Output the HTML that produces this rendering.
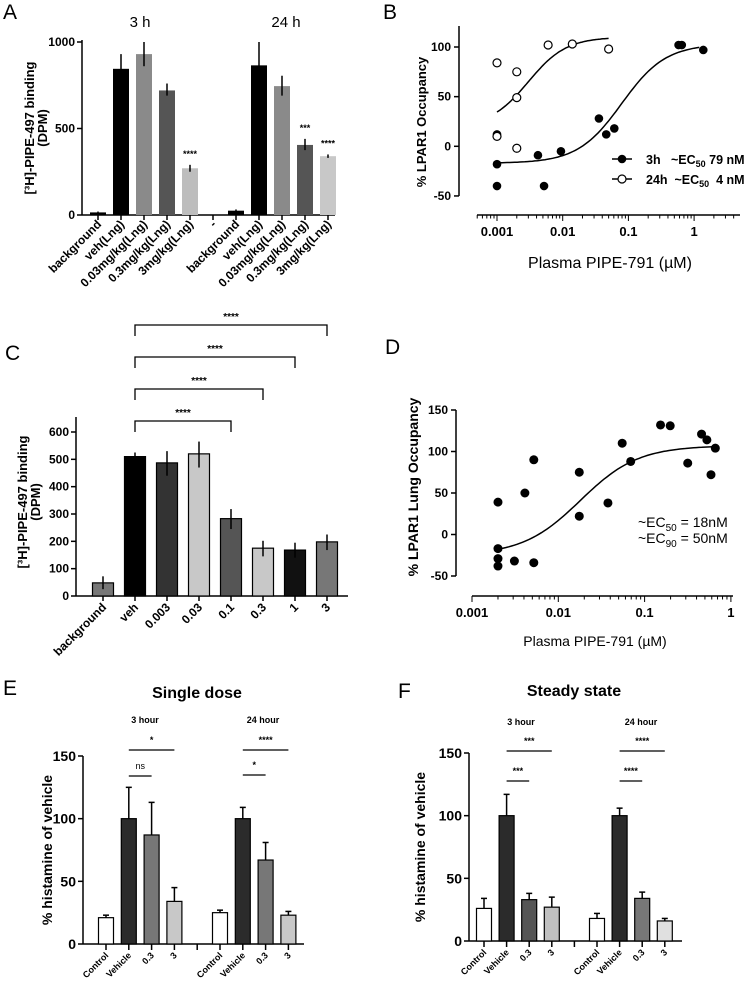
<!DOCTYPE html>
<html><head><meta charset="utf-8"><style>
body{margin:0;background:#fff}
svg{display:block;font-family:"Liberation Sans",Arial,sans-serif}
.b{font-weight:bold}
</style></head><body>
<svg id="fig" width="744" height="987" viewBox="0 0 744 987" xmlns="http://www.w3.org/2000/svg">
<g id="static">
<text x="3" y="19" font-size="21">A</text>
<text x="140" y="27" font-size="15" text-anchor="middle">3 h</text>
<text x="286" y="27" font-size="15" text-anchor="middle">24 h</text>
<text transform="translate(34,128) rotate(-90)" font-size="13" class="b" text-anchor="middle">[³H]-PIPE-497 binding</text>
<text transform="translate(47,128) rotate(-90)" font-size="13" class="b" text-anchor="middle">(DPM)</text>
<text x="383" y="19" font-size="21">B</text>
<text transform="translate(426,122) rotate(-90)" font-size="13" class="b" text-anchor="middle">% LPAR1 Occupancy</text>
<text x="610" y="268" font-size="16" text-anchor="middle">Plasma PIPE-791 (µM)</text>
<text x="5" y="360" font-size="21">C</text>
<text transform="translate(27,502) rotate(-90)" font-size="13" class="b" text-anchor="middle">[³H]-PIPE-497 binding</text>
<text transform="translate(40,502) rotate(-90)" font-size="13" class="b" text-anchor="middle">(DPM)</text>
<text x="385" y="354" font-size="21">D</text>
<text transform="translate(418,487) rotate(-90)" font-size="14" class="b" text-anchor="middle">% LPAR1 Lung Occupancy</text>
<text x="595" y="646" font-size="14" text-anchor="middle">Plasma PIPE-791 (µM)</text>
<text x="638" y="527" font-size="14">~EC<tspan font-size="10" dy="4">50</tspan><tspan dy="-4"> = 18nM</tspan></text>
<text x="638" y="543" font-size="14" dy="0">~EC<tspan font-size="10" dy="4">90</tspan><tspan dy="-4"> = 50nM</tspan></text>
<text x="3" y="695" font-size="21">E</text>
<text x="197" y="698" font-size="16" class="b" text-anchor="middle">Single dose</text>
<text x="145" y="723" font-size="9" class="b" text-anchor="middle">3 hour</text>
<text x="263" y="723" font-size="9" class="b" text-anchor="middle">24 hour</text>
<text transform="translate(52,850) rotate(-90)" font-size="14" class="b" text-anchor="middle">% histamine of vehicle</text>
<text x="398" y="698" font-size="21">F</text>
<text x="574" y="696" font-size="16" class="b" text-anchor="middle">Steady state</text>
<text x="521" y="725" font-size="9" class="b" text-anchor="middle">3 hour</text>
<text x="641" y="725" font-size="9" class="b" text-anchor="middle">24 hour</text>
<text transform="translate(425,847) rotate(-90)" font-size="14" class="b" text-anchor="middle">% histamine of vehicle</text>
</g>
</svg>
<script>
// ---- Panel A data ----
const aCategories = ["background","veh(Lng)","0.03mg/kg(Lng)","0.3mg/kg(Lng)","3mg/kg(Lng)","-","background","veh(Lng)","0.03mg/kg(Lng)","0.3mg/kg(Lng)","3mg/kg(Lng)"];
const aValues = [15,845,930,720,270,null,25,865,745,405,340];
const aErrHi = [20,930,1000,760,290,null,32,1000,805,440,350];
const aErrLo = [10,760,860,690,250,null,18,760,690,375,330];
const aStars = ["","","","","****","","","","","***","****"];
const aTicks = [0,500,1000];
// ---- Panel B data ----
const b3hX = [0.001,0.001,0.001,0.0042,0.0052,0.0094,0.0356,0.046,0.061,0.58,0.65,1.38];
const b3hY = [12,-18,-40,-9,-40,-5,28,12,18,102,102,97];
const b24hX = [0.001,0.001,0.002,0.002,0.002,0.006,0.014,0.05];
const b24hY = [84,10,75,49,-2,102,103,98];
const b3hFit = [-17,103,0.079,1.3];
const b24hFit = [20,110,0.003,1.5];
const bYTicks = [-50,0,50,100];
const bXTicks = [0.001,0.01,0.1,1];
const bXTickLabels = ["0.001","0.01","0.1","1"];
// ---- Panel C data ----
const cCategories = ["background","veh","0.003","0.03","0.1","0.3","1","3"];
const cValues = [48,510,487,520,283,175,168,198];
const cErrHi = [72,525,530,565,318,202,195,225];
const cErrLo = [25,495,440,470,245,145,140,168];
const cTicks = [0,100,200,300,400,500,600];
const cBrackets = [[1,4],[1,5],[1,6],[1,7]];
// ---- Panel D data ----
const dX = [0.002,0.002,0.002,0.002,0.0031,0.0041,0.0052,0.0052,0.0175,0.0175,0.0376,0.055,0.069,0.153,0.198,0.316,0.457,0.527,0.588,0.66];
const dY = [39,-17,-29,-38,-32,50,90,-34,75,22,38,110,88,132,131,86,121,114,72,104];
const dFit = [-25,107,0.018,1.3];
const dYTicks = [-50,0,50,100,150];
const dXTicks = [0.001,0.01,0.1,1];
const dXTickLabels = ["0.001","0.01","0.1","1"];
// ---- Panel E data ----
const eCategories = ["Control","Vehicle","0.3","3","","Control","Vehicle","0.3","3"];
const eValues = [21,100,87,34,null,25,100,67,23];
const eErr = [23,125,113,45,null,27,109,81,26];
const eTicks = [0,50,100,150];
// ---- Panel F data ----
const fCategories = ["Control","Vehicle","0.3","3","","Control","Vehicle","0.3","3"];
const fValues = [26,100,33,27,null,18,100,34,16];
const fErr = [34,117,38,35,null,22,106,39,18];
const fTicks = [0,50,100,150];

const NS="http://www.w3.org/2000/svg";
const svg=document.getElementById('fig');
function mk(tag,attrs,parent){const e=document.createElementNS(NS,tag);for(const k in attrs)e.setAttribute(k,attrs[k]);(parent||svg).appendChild(e);return e;}
function line(x1,y1,x2,y2,w,p){return mk('line',{x1,y1,x2,y2,stroke:'#000','stroke-width':w||1.5},p);}
function txt(x,y,s,size,anchor,bold,p){const t=mk('text',{x,y,'font-size':size,'text-anchor':anchor||'middle'},p);if(bold)t.setAttribute('font-weight','bold');t.textContent=s;return t;}
function rtxt(x,y,s,size,p){const t=mk('text',{x:0,y:0,'font-size':size,'text-anchor':'end','font-weight':'bold',transform:`translate(${x},${y}) rotate(-45)`},p);t.textContent=s;return t;}
function group(name){const g=mk('g',{});return g;}

// ===== Panel A =====
(function(){
 const g=group('panel-a-chart');
 const x0=82,y0=215,yTop=42,x1=335;
 const ys=v=>y0-(v/1000)*(y0-yTop);
 const xs=i=>98+i*23;
 line(x0,yTop-2,x0,y0,1.5,g);line(x0,y0,x1,y0,1.5,g);
 aTicks.forEach(t=>{line(x0-5,ys(t),x0,ys(t),1.5,g);const l=txt(x0-7,ys(t)+4,String(t),12,'end',true,g);});
 const cols=['#000','#000','#8a8a8a','#555','#bdbdbd',null,'#000','#000','#8a8a8a','#555','#c8c8c8'];
 aCategories.forEach((c,i)=>{
  const x=xs(i);line(x,y0,x,y0+5,1.5,g);
  const lab=rtxt(x+4,y0+10,c,12,g);
  if(aValues[i]==null)return;
  const r=mk('rect',{x:x-8,y:ys(aValues[i]),width:16,height:y0-ys(aValues[i]),fill:cols[i]},g);
  
  line(x,ys(aErrHi[i]),x,ys(aErrLo[i]),1.5,g);
  if(aStars[i]){const s=txt(x,ys(aErrHi[i])-8,aStars[i],9,'middle',true,g);}
 });
})();

// ===== Panel B =====
const logx=(v,a,per)=>a+(Math.log10(v)+3)*per;
function hill(p,x){return p[0]+(p[1]-p[0])/(1+Math.pow(p[2]/x,p[3]));}
(function(){
 const g=group('panel-b-chart');
 const xa=497,per=65.7;const xs=v=>logx(v,xa,per);
 const ys=v=>47+(100-v)*0.993;
 line(459,26,459,196,1.5,g);
 bYTicks.forEach(t=>{line(454,ys(t),459,ys(t),1.5,g);const l=txt(451,ys(t)+4,String(t),12,'end',true,g);});
 const ay=215;line(477,ay,740,ay,1.5,g);
 for(let d=-4;d<=0;d++)for(let m=1;m<10;m++){const v=m*Math.pow(10,d);const x=xs(v);if(x<477||x>740)continue;line(x,ay,x,ay+(m==1?6:3.5),1,g);}
 bXTicks.forEach((t,i)=>{const l=txt(xs(t),ay+21,bXTickLabels[i],13,'middle',true,g);});
 function curve(p,lo,hi,name){let d='';for(let k=0;k<=80;k++){const lv=Math.log10(lo)+(Math.log10(hi)-Math.log10(lo))*k/80;const v=Math.pow(10,lv);d+=(k?'L':'M')+xs(v).toFixed(1)+','+ys(hill(p,v)).toFixed(1);}const c=mk('path',{d,fill:'none',stroke:'#000','stroke-width':1.5},g);}
 curve(b3hFit,0.001,1.2,'b-3h-fit-curve');
 curve(b24hFit,0.001,0.05,'b-24h-fit-curve');
 b3hX.forEach((v,i)=>{const c=mk('circle',{cx:xs(v),cy:ys(b3hY[i]),r:4.3,fill:'#000'},g);});
 b24hX.forEach((v,i)=>{const c=mk('circle',{cx:xs(v),cy:ys(b24hY[i]),r:4,fill:'#fff',stroke:'#000','stroke-width':1.2},g);});
 const lg=group('b-legend');
 line(612,159,632,159,1.5,lg);mk('circle',{cx:622,cy:159,r:4.3,fill:'#000'},lg);
 const t1=txt(646,164,'',12.5,'start',true,lg);t1.innerHTML='3h&#160;&#160; ~EC<tspan font-size="9" dy="3">50</tspan><tspan dy="-3"> 79 nM</tspan>';
 line(612,179,632,179,1.5,lg);mk('circle',{cx:622,cy:179,r:4,fill:'#fff',stroke:'#000','stroke-width':1.2},lg);
 const t2=txt(646,184,'',12.5,'start',true,lg);t2.innerHTML='24h&#160; ~EC<tspan font-size="9" dy="3">50</tspan><tspan dy="-3">&#160; 4 nM</tspan>';
})();

// ===== Panel C =====
(function(){
 const g=group('panel-c-chart');
 const x0=76,y0=596,x1=348;const ys=v=>y0-v*(164/600);const xs=i=>103+i*32;
 line(x0,417,x0,y0,1.5,g);line(x0,y0,x1,y0,1.5,g);
 cTicks.forEach(t=>{line(x0-5,ys(t),x0,ys(t),1.5,g);const l=txt(x0-7,ys(t)+4,String(t),12,'end',true,g);});
 const cols=['#777','#000','#333','#c8c8c8','#555','#c8c8c8','#111','#777'];
 cCategories.forEach((c,i)=>{
  const x=xs(i);line(x,y0,x,y0+5,1.5,g);
  const lab=rtxt(x+4,y0+12,c,12,g);
  const r=mk('rect',{x:x-10.5,y:ys(cValues[i]),width:21,height:y0-ys(cValues[i]),fill:cols[i],stroke:'#000','stroke-width':1.2},g);
  
  line(x,ys(cErrHi[i]),x,ys(cErrLo[i]),1.5,g);
 });
 const levels=[421,389,357,325];
 cBrackets.forEach((b,k)=>{const y=levels[k];const xa=xs(b[0]),xb=xs(b[1]);
  const p=mk('path',{d:`M${xa},${y+11}V${y}H${xb}V${y+11}`,fill:'none',stroke:'#000','stroke-width':1.3},g);
  const s=txt((xa+xb)/2,y-5,'****',10,'middle',true,g);});
})();

// ===== Panel D =====
(function(){
 const g=group('panel-d-chart');
 const xs=v=>logx(v,472,86.3);const ys=v=>410+(150-v)*(166/200);
 line(456,410,456,576,1.5,g);
 dYTicks.forEach(t=>{line(451,ys(t),456,ys(t),1.5,g);const l=txt(448,ys(t)+4,String(t),12,'end',true,g);});
 const ay=596;line(472,ay,733,ay,1.5,g);
 for(let d=-3;d<=0;d++)for(let m=1;m<10;m++){const v=m*Math.pow(10,d);const x=xs(v);if(x>734)continue;line(x,ay,x,ay+(m==1?6:3.5),1,g);}
 dXTicks.forEach((t,i)=>{const l=txt(xs(t),ay+21,dXTickLabels[i],13,'middle',true,g);});
 let d='';for(let k=0;k<=80;k++){const lv=Math.log10(0.002)+(Math.log10(0.66)-Math.log10(0.002))*k/80;const v=Math.pow(10,lv);d+=(k?'L':'M')+xs(v).toFixed(1)+','+ys(hill(dFit,v)).toFixed(1);}
 const c=mk('path',{d,fill:'none',stroke:'#000','stroke-width':1.5},g);
 dX.forEach((v,i)=>{const p=mk('circle',{cx:xs(v),cy:ys(dY[i]),r:4.5,fill:'#000'},g);});
})();

// ===== Panels E & F =====
function histPanel(pfx,cats,vals,errs,ticks,x0,y0,yTop,x1,bx0,step,cols,sig){
 const g=group(pfx+'-chart');
 const ys=v=>y0-v*((y0-yTop)/150);const xs=i=>bx0+i*step;
 line(x0,yTop,x0,y0,1.5,g);line(x0,y0,x1,y0,1.5,g);
 ticks.forEach(t=>{line(x0-5,ys(t),x0,ys(t),1.5,g);const l=txt(x0-7,ys(t)+5,String(t),14,'end',true,g);});
 cats.forEach((c,i)=>{
  const x=xs(i);line(x,y0,x,y0+6,1.5,g);
  if(vals[i]==null)return;
  const lab=rtxt(x+3,y0+12,c,9,g);
  line(x,ys(errs[i]),x,ys(vals[i]),1.5,g);line(x-3,ys(errs[i]),x+3,ys(errs[i]),1.5,g);
  const r=mk('rect',{x:x-7.5,y:ys(vals[i]),width:15,height:y0-ys(vals[i]),fill:cols[i],stroke:'#000','stroke-width':1.2},g);
  
 });
 sig.forEach(s=>{const l=line(xs(s[0]),s[2],xs(s[1]),s[2],1.3,g);
  const t=txt((xs(s[0])+xs(s[1]))/2,s[2]-7,s[3],9,'middle',s[3]!='ns',g);});
}
histPanel('e',eCategories,eValues,eErr,eTicks,83,944,756,304,106,22.8,
 ['#fff','#2b2b2b','#777','#c8c8c8',null,'#fff','#2b2b2b','#777','#c8c8c8'],
 [[1,3,750,'*'],[1,2,776,'ns'],[6,8,750,'****'],[6,7,775,'*']]);
histPanel('f',fCategories,fValues,fErr,fTicks,469,941,753,682,484,22.6,
 ['#fff','#2b2b2b','#555','#c0c0c0',null,'#fff','#2b2b2b','#777','#e0e0e0'],
 [[1,3,751,'***'],[1,2,781,'***'],[6,8,751,'****'],[6,7,781,'****']]);
</script>
</body></html>
